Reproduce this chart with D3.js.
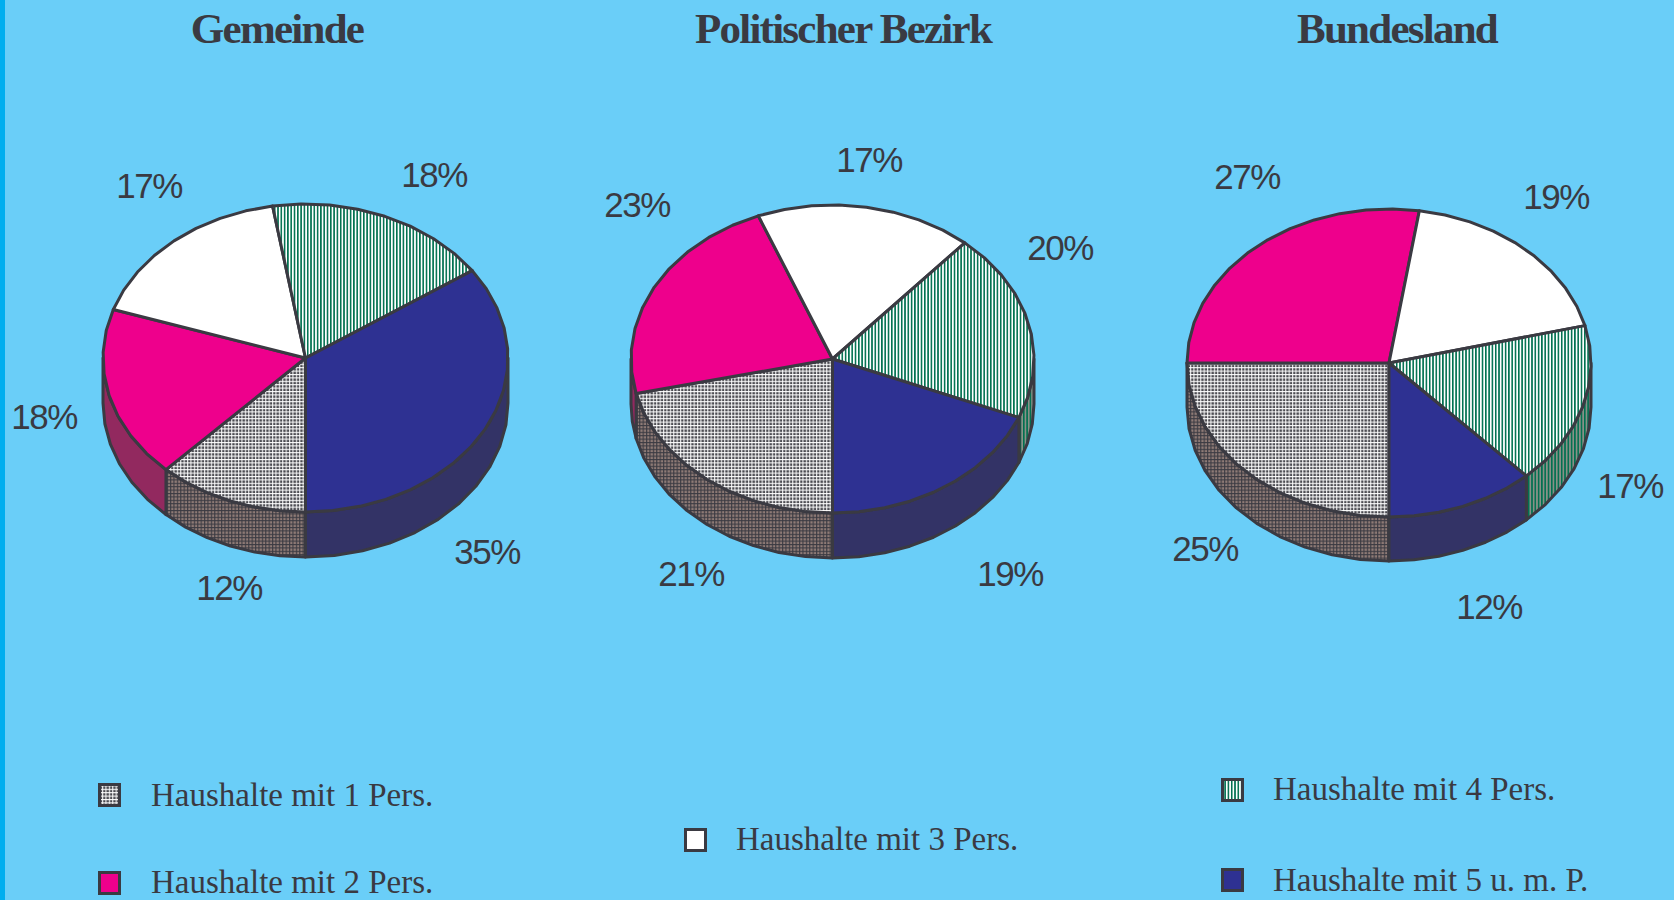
<!DOCTYPE html>
<html><head><meta charset="utf-8">
<script src="https://cdn.jsdelivr.net/npm/d3@7"></script>
<style>html,body{margin:0;padding:0;background:#6acef8;overflow:hidden}svg{display:block}</style>
</head><body><svg id="c" width="1674" height="900"></svg>
<script>
const categories = ["Haushalte mit 1 Pers.","Haushalte mit 2 Pers.","Haushalte mit 3 Pers.","Haushalte mit 4 Pers.","Haushalte mit 5 u. m. P."];
const titles = ["Gemeinde","Politischer Bezirk","Bundesland"];
const gemeinde = [12.1,18,17.3,18,34.6];
const bezirk = [21.4,22.6,17.4,19.8,18.8];
const bundesland = [25,27.4,18.7,17,11.9];
const seriesValues = [gemeinde,bezirk,bundesland];

const INK="#3a3a42", BG="#6acef8";
const svg=d3.select("#c");
svg.append("rect").attr("width",1674).attr("height",900).attr("fill",BG);
svg.append("rect").attr("width",5).attr("height",900).attr("fill","#00aeef");
const defs=svg.append("defs");
function grid(id,bg,line,w){
  const p=defs.append("pattern").attr("id",id).attr("patternUnits","userSpaceOnUse").attr("width",3.4).attr("height",3.4);
  p.append("rect").attr("width",3.4).attr("height",3.4).attr("fill",bg);
  p.append("path").attr("d","M0 .6H3.4M.6 0V3.4").attr("stroke",line).attr("stroke-width",w);
}
function stripes(id,bg,line){
  const p=defs.append("pattern").attr("id",id).attr("patternUnits","userSpaceOnUse").attr("width",3.3).attr("height",4);
  p.append("rect").attr("width",3.3).attr("height",4).attr("fill",bg);
  p.append("rect").attr("width",1.6).attr("height",4).attr("fill",line);
}
grid("g1","#4a4a50","#ffffff",1); grid("g1s","#8f7b76","#3a3a42",1.1);
stripes("s4","#ffffff","#00704f"); stripes("s4s","#8a9088","#00704f");
const topFill=["url(#g1)","#ee008c","#ffffff","url(#s4)","#2e3192"];
const sideFill=["url(#g1s)","#92295f","#ffffff","url(#s4s)","#333366"];

const geom=[{cx:305.5,cy:358,rx:202.5,ry:154,d:45},{cx:832.5,cy:359,rx:201.5,ry:154,d:45},{cx:1389,cy:363,rx:202,ry:154,d:44}];
const titleX=[277,843,1397];
const pct=[
 [[229,600],[44,429],[149,198],[434,187],[487,564]],
 [[691,586],[637,217],[869,172],[1060,260],[1010,586]],
 [[1205,561],[1247,189],[1556,209],[1630,498],[1489,619]]
];
const pie=d3.pie().sort(null).startAngle(Math.PI).endAngle(3*Math.PI);
const pctFmt=d3.format(".0f");
const STEP=Math.PI/22;
function samples(a0,a1){
  const n=Math.max(1,Math.ceil((a1-a0)/STEP));
  return d3.range(n+1).map(i=>a0+(a1-a0)*i/n);
}
seriesValues.forEach((vals,k)=>{
  const g=geom[k], grp=svg.append("g");
  const px=a=>g.cx+g.rx*Math.sin(a), py=a=>g.cy-g.ry*Math.cos(a);
  const line=d3.line().x(d=>d[0]).y(d=>d[1]);
  const arcs=pie(vals);
  arcs.forEach((s,i)=>{
    const a0=Math.max(s.startAngle,Math.PI/2), a1=Math.min(s.endAngle,1.5*Math.PI);
    const b0=Math.max(s.startAngle,2.5*Math.PI), b1=Math.min(s.endAngle,3.5*Math.PI);
    [[a0,a1],[b0,b1]].forEach(([u,v])=>{
      if(v<=u) return;
      const t=samples(u,v), up=t.map(a=>[px(a),py(a)]), dn=t.slice().reverse().map(a=>[px(a),py(a)+g.d]);
      grp.append("path").attr("d",line(up.concat(dn))+"Z").attr("fill",sideFill[i]).attr("stroke",INK).attr("stroke-width",3).attr("stroke-linejoin","round");
    });
  });
  arcs.forEach((s,i)=>{
    const pts=samples(s.startAngle,s.endAngle).map(a=>[px(a),py(a)]);
    grp.append("path").attr("d",line([[g.cx,g.cy]].concat(pts))+"Z").attr("fill",topFill[i]).attr("stroke",INK).attr("stroke-width",3).attr("stroke-linejoin","round");
  });
  arcs.forEach((s,i)=>{
    grp.append("text").attr("x",pct[k][i][0]).attr("y",pct[k][i][1]).attr("text-anchor","middle")
      .attr("font-family","Liberation Sans").attr("font-size",35).attr("letter-spacing",-1.5).attr("fill",INK).text(pctFmt(vals[i])+"%");
  });
  svg.append("text").attr("x",titleX[k]).attr("y",43).attr("text-anchor","middle").attr("font-family","Liberation Serif")
    .attr("font-weight","bold").attr("font-size",43).attr("letter-spacing",-1.75).attr("fill",INK).text(titles[k]);
});
const legendPos=[[98,783,151,806],[98,871,151,893],[684,828,736,850],[1221,778,1273,800],[1221,868,1273,891]];
categories.forEach((c,i)=>{
  const p=legendPos[i];
  svg.append("rect").attr("x",p[0]+1.5).attr("y",p[1]+1.5).attr("width",20).attr("height",21).attr("fill",topFill[i]).attr("stroke",INK).attr("stroke-width",3);
  svg.append("text").attr("x",p[2]).attr("y",p[3]).attr("font-family","Liberation Serif").attr("font-size",33).attr("fill",INK).text(c);
});
</script></body></html>
